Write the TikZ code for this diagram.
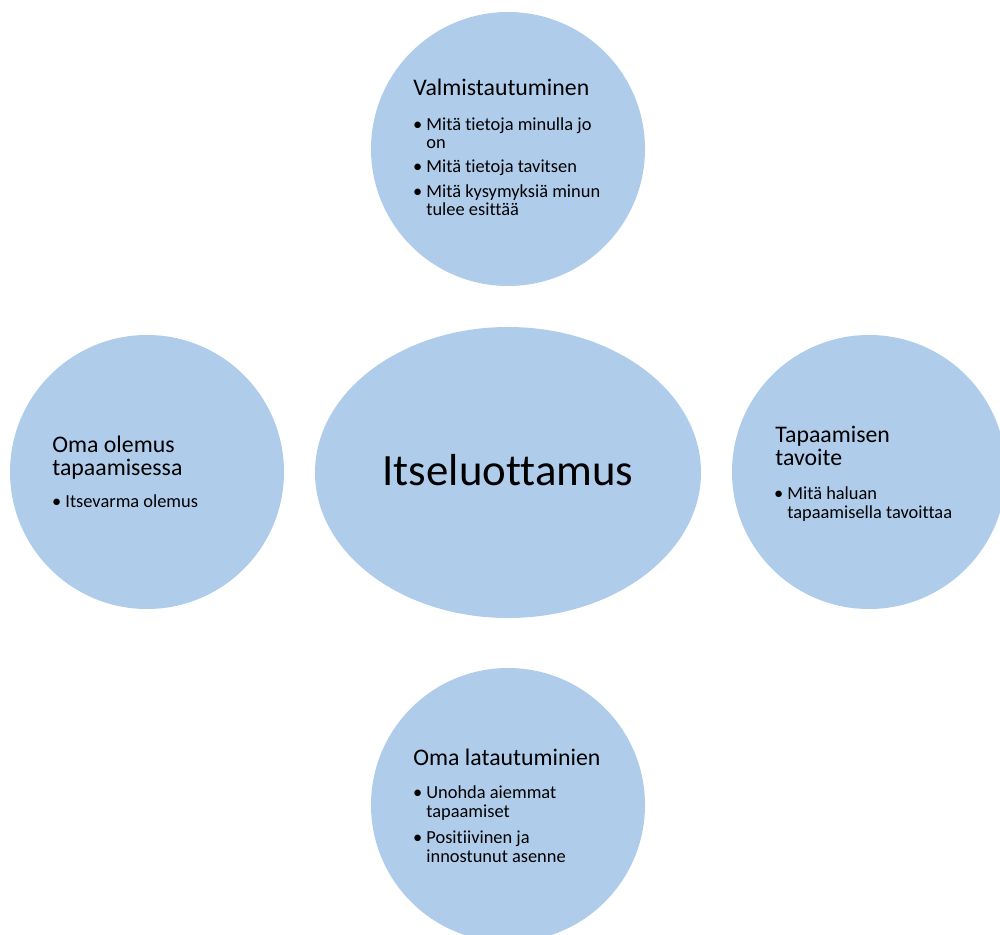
\documentclass[tikz,border=0pt]{standalone}
\usepackage{fontspec}
\setmainfont{Carlito}[Ligatures=CommonOff]
\usetikzlibrary{shapes.geometric}
\definecolor{bubblefill}{RGB}{175,205,234}
\newcommand{\hdfont}{\fontsize{11.9}{11.4}\selectfont}
\newcommand{\itfont}{\fontsize{9.2}{9.4}\selectfont}
\newcommand{\bl}{\llap{\textbullet\hspace{2pt}}}
\begin{document}
\begin{tikzpicture}[x=0.5pt,y=-0.5pt]
\tikzstyle{every node}+=[inner sep=0pt]
\tikzstyle{bubble}=[circle,fill=bubblefill,minimum size=137pt]
\tikzstyle{hd}=[anchor=base west,align=left,font=\hdfont]
\tikzstyle{itm}=[anchor=base west,align=left,font=\itfont]
\useasboundingbox (0,0) rectangle (1000,935);
\clip (0,0) rectangle (1000,935);
\node [bubble] (valm) at (508,149) {};
\node [bubble] (olemus) at (147,472) {};
\node [bubble] (tavoite) at (869,472) {};
\node [bubble] (lataus) at (508,805) {};
\node [ellipse,fill=bubblefill,minimum width=193pt,minimum height=145.5pt] (itse) at (508,472.5) {};
\node [anchor=base,font=\fontsize{22.4}{26}\selectfont] (itsetxt) at (508,485) {Itseluottamus};
\node [hd] (valmhd) at (413,96) {Valmistautuminen};
\node [itm] (valm1) at (426,149) {\bl Mitä tietoja minulla jo\\on};
\node [itm] (valm2) at (426,172.5) {\bl Mitä tietoja tavitsen};
\node [itm] (valm3) at (426,216) {\bl Mitä kysymyksiä minun\\tulee esittää};
\node [hd] (olemushd) at (52,475) {Oma olemus\\tapaamisessa};
\node [itm] (olemus1) at (65,507) {\bl Itsevarma olemus};
\node [hd] (tavoitehd) at (775,465) {Tapaamisen\\tavoite};
\node [itm] (tavoite1) at (787,518) {\bl Mitä haluan\\tapaamisella tavoittaa};
\node [hd] (latausthd) at (413,765) {Oma latautuminien};
\node [itm] (lataus1) at (426,817) {\bl Unohda aiemmat\\tapaamiset};
\node [itm] (lataus2) at (426,862) {\bl Positiivinen ja\\innostunut asenne};
\end{tikzpicture}
\end{document}
